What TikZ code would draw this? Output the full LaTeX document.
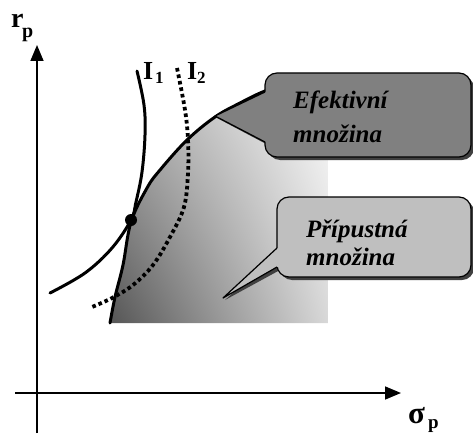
\documentclass[tikz,border=0pt]{standalone}
\usepackage{fontspec}
\setmainfont{Liberation Serif}
\usetikzlibrary{arrows.meta,shadings}
\begin{document}
\begin{tikzpicture}[x=1pt,y=-1pt,
  axis/.style={line width=1.6pt,-{Triangle[length=16pt,width=13pt]}},
  curve/.style={line width=3pt,line cap=round},
  dotcurve/.style={line width=3.8pt,dash pattern=on 3.6pt off 3pt},
  calltxt/.style={inner sep=0pt,anchor=base west,font=\fontsize{25}{30}\selectfont\bfseries\itshape},
  big/.style={inner sep=0pt,anchor=base west,font=\fontsize{#1}{#1}\selectfont\bfseries},
  edge/.style={line width=1.2pt,line join=round},
  shadow/.style={fill=black!75}]
\useasboundingbox (0,0) rectangle (473,433);

% shaded feasible region
\begin{scope}
\clip plot[smooth,tension=0.6] coordinates {(110,323) (115,297) (123,265) (131,222) (147,188) (160,170) (187,140) (215,117) (240,103) (265,91) (300,79) (328,72)} -- (328,323) -- cycle;
\shade[lower left=black!68, lower right=black!15, upper left=black!30, upper right=white] (105,60) rectangle (330,325);
\end{scope}

% axes
\coordinate (yb) at (37,433);
\coordinate (yt) at (37,45);
\coordinate (xl) at (15,393);
\coordinate (xr) at (401,393);
\draw[axis] (yb) -- (yt);
\draw[axis] (xl) -- (xr);

% efficient frontier
\draw[curve] plot[smooth,tension=0.6] coordinates {(110,323) (115,297) (123,265) (131,222) (147,188) (160,170) (187,140) (215,117) (240,103) (265,91) (300,79)};

% indifference curves
\draw[curve] plot[smooth,tension=0.6] coordinates {(137,71) (144,105) (145,135) (142,172) (136,202) (131,220) (112,248) (85,273) (50,293)};
\draw[dotcurve] plot[smooth,tension=0.6] coordinates {(177,68) (185,110) (188,140) (188,173) (184,207) (170,237) (153,265) (133,285) (112,298) (92,307)};

% tangency point
\node[circle,fill=black,inner sep=0pt,minimum size=12pt] (tp) at (131,220) {};

% callout 1 (Efektivni mnozina)
\coordinate (atip) at (215,116);
\coordinate (aup) at (265,92);
\coordinate (alo) at (265,142);
\fill[shadow,rounded corners=12pt] (268,76) rectangle (474,160);
\fill[shadow] (217,118) -- (268,95) -- (268,145) -- cycle;
\filldraw[edge,fill=black!50,rounded corners=12pt] (265,73) rectangle (471,157);
\fill[black!50] (atip) -- (aup) -- (268,92) -- (268,142) -- (alo) -- cycle;
\draw[edge] (aup) -- (atip) -- (alo);

% callout 2 (Pripustna mnozina)
\coordinate (btip) at (223,298);
\coordinate (bup) at (277,248);
\coordinate (blo) at (277,267);
\fill[shadow,rounded corners=12pt] (280,200) rectangle (474,280);
\fill[shadow] (225,300) -- (280,251) -- (280,270) -- cycle;
\filldraw[edge,fill=black!25,rounded corners=12pt] (277,197) rectangle (471,277);
\fill[black!25] (btip) -- (bup) -- (280,248) -- (280,267) -- (blo) -- cycle;
\draw[edge] (bup) -- (btip) -- (blo);

\node[calltxt] (e1) at (293,109) {Efektivní};
\node[calltxt] (e2) at (293,142) {množina};
\node[calltxt] (p1) at (306,237) {Přípustná};
\node[calltxt] (p2) at (306,265) {množina};

% labels
\node[big=28] (r) at (11,28) {r};
\node[big=20] (rp) at (22,38) {p};
\node[big=31] (s) at (408,423) {σ};
\node[big=19] (sp) at (428,428) {p};
\node[big=26] (i1) at (143,80) {I};
\node[big=17] (i1s) at (155,84) {1};
\node[big=26] (i2) at (187,80) {I};
\node[big=17] (i2s) at (197,84) {2};
\end{tikzpicture}
\end{document}
